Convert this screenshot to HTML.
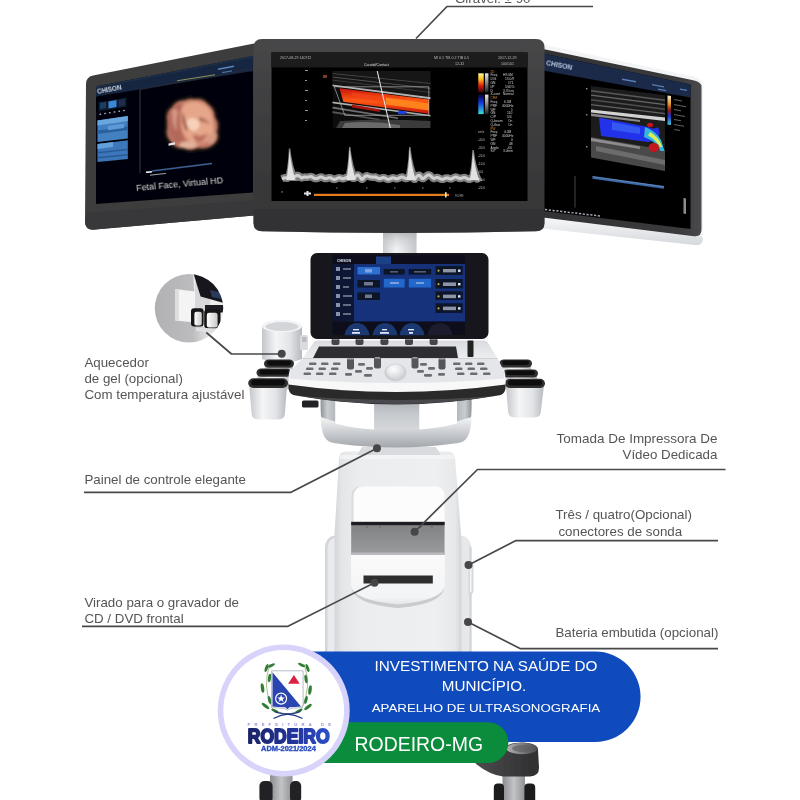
<!DOCTYPE html>
<html><head><meta charset="utf-8">
<style>
html,body{margin:0;padding:0;background:#fff;}
body{width:800px;height:800px;overflow:hidden;position:relative;font-family:"Liberation Sans",sans-serif;}
svg{position:absolute;left:0;top:0;display:block;}
text{font-family:"Liberation Sans",sans-serif;}
</style></head><body>
<svg width="800" height="800" viewBox="0 0 800 800">
<defs>
<filter id="bm" x="0" y="0" width="800" height="800" filterUnits="userSpaceOnUse"><feGaussianBlur stdDeviation="0.55"/></filter>
<filter id="b1" x="-10%" y="-10%" width="120%" height="120%"><feGaussianBlur stdDeviation="0.6"/></filter>
<filter id="b2" x="-20%" y="-20%" width="140%" height="140%"><feGaussianBlur stdDeviation="1.5"/></filter>
<filter id="b3" x="-30%" y="-30%" width="160%" height="160%"><feGaussianBlur stdDeviation="3"/></filter>
<linearGradient id="gBody" x1="0" x2="1" y1="0" y2="0">
  <stop offset="0" stop-color="#d9dbde"/><stop offset="0.12" stop-color="#f1f2f4"/><stop offset="0.5" stop-color="#f7f8f9"/><stop offset="0.88" stop-color="#eceef0"/><stop offset="1" stop-color="#cfd2d6"/>
</linearGradient>
<linearGradient id="gNeck" x1="0" x2="1" y1="0" y2="0">
  <stop offset="0" stop-color="#c9ccd0"/><stop offset="0.4" stop-color="#f2f3f4"/><stop offset="1" stop-color="#c4c7cb"/>
</linearGradient>
</defs>
<rect width="800" height="800" fill="#ffffff"/>
<!--MACHINE-->
<g id="machine" filter="url(#bm)">
<g id="body">
<defs>
<linearGradient id="gShelf" x1="0" x2="0" y1="0" y2="1"><stop offset="0" stop-color="#7f8082"/><stop offset="1" stop-color="#9b9c9e"/></linearGradient>
<linearGradient id="gDrawer" x1="0" x2="0" y1="0" y2="1"><stop offset="0" stop-color="#fafafb"/><stop offset=".8" stop-color="#f3f4f5"/><stop offset="1" stop-color="#dcdee1"/></linearGradient>
</defs>
<!-- casters -->
<defs><linearGradient id="gFork" x1="0" x2="1" y1="0" y2="0"><stop offset="0" stop-color="#8a8c8f"/><stop offset=".5" stop-color="#c2c4c6"/><stop offset="1" stop-color="#8e9093"/></linearGradient>
<linearGradient id="gBase" x1="0" x2="1" y1="0" y2="0"><stop offset="0" stop-color="#4c4c4e"/><stop offset=".6" stop-color="#3a3a3c"/><stop offset="1" stop-color="#2f2f31"/></linearGradient></defs>
<g filter="url(#b1)">
<rect x="502.500" y="772" width="22.500" height="30" fill="url(#gFork)"/>
<rect x="493.800" y="783.500" width="10.200" height="20" rx="4" fill="#1d1d1e"/>
<rect x="524.400" y="783.500" width="10.800" height="20" rx="4" fill="#1d1d1e"/>
<path d="M474,760 Q492,750 506,748 Q506,743 522,742.500 Q538,743 538,750 L539,768 Q539,776 530,776.500 L503,776.500 Q490,775 476,764 Z" fill="url(#gBase)"/>
<defs><linearGradient id="gTopE" x1="0" x2="1" y1="0" y2="0"><stop offset="0" stop-color="#b4b4b6"/><stop offset=".5" stop-color="#7c7c7f"/><stop offset="1" stop-color="#4c4c4f"/></linearGradient></defs><ellipse cx="522" cy="748.500" rx="15.500" ry="5.800" fill="url(#gTopE)"/>
<ellipse cx="523" cy="748.500" rx="11" ry="3.400" fill="#5a5a5d" opacity=".6"/>
<rect x="270" y="772" width="22.500" height="30" fill="url(#gFork)"/>
<rect x="259.400" y="781" width="13.200" height="22" rx="5" fill="#242425"/>
<rect x="290" y="781" width="11.200" height="22" rx="5" fill="#242425"/>
</g>
<!-- lower body wings -->
<path d="M325,548 Q325,537 335,535.500 L340,535.500 L340,700 L325,700 Z" fill="#e9ebed"/>
<path d="M325,548 Q325,537 335,535.500 L336,537 Q327.500,539 327.500,549 L327.500,700 L325,700 Z" fill="#d3d5d9"/>
<path d="M456,535.500 L461,535.500 Q471,537 471.500,548 L471.500,700 L456,700 Z" fill="#e6e8ea"/>
<path d="M469.500,545 L471.500,548 L471.500,700 L469.500,700 Z" fill="#cfd2d6"/>
<!-- column -->
<defs><linearGradient id="gColF" x1="0" x2="1" y1="0" y2="0"><stop offset="0" stop-color="#d4d6da"/><stop offset=".06" stop-color="#e4e6e8"/><stop offset=".2" stop-color="#ecedef"/><stop offset=".8" stop-color="#eeeff1"/><stop offset=".95" stop-color="#e6e8ea"/><stop offset="1" stop-color="#d2d4d8"/></linearGradient></defs>
<path d="M339,458 Q339,452 346,451.500 L448,451.500 Q454.500,452 455,458 L461.500,540 L461.500,700 L334.500,700 L334.500,534 Z" fill="url(#gColF)"/>
<path d="M362,447 L436,447 L441,455 L357,455 Z" fill="#d9dbde"/>
<path d="M340,455 L454,455 L454.500,459 L339.500,459 Z" fill="#f4f5f6" opacity=".8"/>
<!-- opening -->
<path d="M351.200,556 L351.200,496 Q351.200,486.500 361,486.500 L435,486.500 Q444.600,486.500 444.600,496 L444.600,556 Z" fill="#fcfcfd"/>
<path d="M351.200,556 L351.200,496 Q351.200,486.500 361,486.500 L363,486.500 Q353.500,487 353.500,497 L353.500,556 Z" fill="#d9dbde"/>
<path d="M351.200,522 L444.600,522 L444.600,555 L351.200,555 Z" fill="url(#gShelf)"/>
<rect x="351.200" y="521.800" width="93.400" height="3.400" fill="#1f1f21"/>
<rect x="351.200" y="552.500" width="93.400" height="2.500" fill="#b9bbbe"/>
<g fill="#5e5f61"><circle cx="367" cy="527" r=".8"/><circle cx="380" cy="527" r=".8"/><circle cx="421" cy="527" r=".8"/><circle cx="432" cy="527" r=".8"/></g>
<!-- drawer -->
<path d="M351,555 L444.800,555 L444.800,586 Q444,604 398,608 Q352,604 351,586 Z" fill="url(#gDrawer)"/>
<path d="M351,586 Q352,604 398,608 Q444,604 444.800,586 Q443,600 398,604.500 Q353,600 351,586 Z" fill="#c9cbcf" filter="url(#b1)"/>
<rect x="363.500" y="575.500" width="69.300" height="8" fill="#2d2d2f"/>
<!-- right side details -->
<path d="M468.500,561 Q473.500,561 473.500,567 L473.500,590 Q473.500,595 468.500,595 Z" fill="#d6d8db"/><path d="M470,564 L471.500,564 L471.500,592 L470,592 Z" fill="#f6f7f8"/>
</g>
<g id="monitors">
<!-- LEFT MONITOR -->
<path d="M86,84 Q86,77 93,75.500 L254,43.500 L254,215.500 L95,229.600 Q85,230.500 85,221.500 Z" fill="#3d3d3e"/>
<path d="M86,213 L254,200 L254,215.500 L95,229.600 Q85,230.500 85,221.500 Z" fill="#38383a"/>
<path d="M96,86.5 L253,56 L253,192.5 L96,204 Z" fill="#050507"/>
<path d="M96,86.500 L253,56 L253,71 L96,96.500 Z" fill="#182640"/>
<path d="M96,86.500 L253,56 L253,57.500 L96,88 Z" fill="#22344f" opacity=".7"/>
<text x="97.500" y="94" font-size="6.600" font-weight="bold" fill="#cfd8e8" transform="rotate(-10.500 97.500 94)" textLength="25" lengthAdjust="spacingAndGlyphs" filter="url(#b1)">CHISON</text>
<path d="M218,68.500 L234,65.500 L234,67 L218,70 Z" fill="#5b86c4" filter="url(#b1)"/>
<path d="M222,72 L232,70.200 L232,71.400 L222,73.200 Z" fill="#4a6ea4" filter="url(#b1)"/>
<!-- left side panel items -->
<g filter="url(#b1)">
<path d="M98.500,102.500 L126.500,97.500 L126.500,106.500 L98.500,111.500 Z" fill="#0c1a2e"/>
<path d="M108.500,101.500 L116.500,100.100 L116.500,107 L108.500,108.400 Z" fill="#3a88d8"/>
<path d="M100,102.800 L106,101.800 L106,108.200 L100,109.200 Z" fill="#1f3c5e"/>
<path d="M118.500,100 L125,98.800 L125,105.500 L118.500,106.700 Z" fill="#1a2f4c"/>
<path d="M99.500,114.400 L125,110.300" stroke="#aeb9cc" stroke-width="1.400" stroke-dasharray="1.600 3.200" fill="none"/>
<path d="M97.500,120.500 L127.800,116 L127.800,138.500 L97.500,142 Z" fill="#4380c2"/>
<path d="M97.500,120.500 L127.800,116 L127.800,121 L97.500,125.500 Z" fill="#6aa6de"/>
<path d="M97.500,130.500 L127.800,126.500 L127.800,130 L97.500,134 Z" fill="#2c5f9c"/>
<path d="M108,126 L124,123.800 L124,128 L108,130.200 Z" fill="#5f9ad8"/>
<path d="M97.500,144 L127.800,140.300 L127.800,159 L97.500,162 Z" fill="#3b77ba"/>
<path d="M97.500,144 L113,142 L113,147 L97.500,149 Z" fill="#63a0dc"/>
<path d="M97.500,152 L127.800,148.700 L127.800,150.300 L97.500,153.600 Z" fill="#2a5a94"/>
<path d="M97.500,157 L127.800,154 L127.800,155.400 L97.500,158.400 Z" fill="#2a5a94"/>
</g>
<!-- 3D view frame -->
<path d="M140,89 L140,173" stroke="#3c4656" stroke-width=".8"/>
<path d="M140,89.500 L251,69" stroke="#26303e" stroke-width=".8"/>
<path d="M177,80.800 L215,74.800" stroke="#8f8f58" stroke-width="1" filter="url(#b1)"/>
<path d="M152,171 L212,163.500" stroke="#3a6299" stroke-width="1.300" filter="url(#b1)"/>
<path d="M146,172.400 L152,171.700" stroke="#e7ebf2" stroke-width="1.600" filter="url(#b1)"/>
<path d="M150,175.200 L166,173.400" stroke="#9aa3b3" stroke-width="1" filter="url(#b1)"/>
<!-- fetal face -->
<g filter="url(#b2)">
<path d="M167,122 Q165,112 172,107 Q176,100 185,100 Q189,97.500 195,99 Q203,98 208,104 Q215,109 215,117 Q220,124 217,132 Q220,140 213,145 Q206,150 198,148 Q190,152 183,148 Q175,149 171,142 Q165,136 167,128 Z" fill="#c47c66"/>
<path d="M184,104 Q194,99 204,104 Q213,110 213,122 Q216,134 208,141 Q198,147 189,141 Q181,134 181,121 Q180,110 184,104 Z" fill="#e6a68a"/>
<path d="M169,112 Q174,104 183,103 Q179,112 180,124 Q181,136 187,143 Q178,146 172,139 Q166,130 169,112 Z" fill="#b4685a"/>
<path d="M172,110 Q176,107 178,112 Q175,122 177,132 Q172,126 172,110 Z" fill="#dfa691" opacity=".8"/>
<path d="M188,119 Q194,116 199,121 Q201,128 195,131 Q188,130 187,124 Z" fill="#f6d2ba"/>
<path d="M183,112 Q185,122 188,130 Q186,132 184,126 Q181,118 183,112 Z" fill="#8c4434"/>
<path d="M199,117 Q206,118 210,124 Q204,122 199,121 Z" fill="#b06a56"/>
<path d="M180,143 Q190,139 198,146 Q190,151 180,147 Z" fill="#e3b49e"/>
<path d="M207,134 Q214,136 217,131 Q218,141 210,145 Q206,141 207,134 Z" fill="#d79a84"/>
<path d="M193,134 Q202,138 207,133 Q206,142 198,143 Q193,140 193,134 Z" fill="#bd6f5e"/>
</g>
<g filter="url(#b1)"><path d="M168.500,143.500 L175,142.300 L175,144.500 L168.500,145.700 Z" fill="#e8e8ea"/></g>
<text x="136.500" y="190.800" font-size="8.900" fill="#d3d8e0" transform="rotate(-5.200 136.500 190.800)" filter="url(#b1)">Fetal Face,  Virtual HD</text>

<!-- RIGHT MONITOR -->
<defs>
<linearGradient id="gRcb" x1="0" x2="0" y1="0" y2="1"><stop offset="0" stop-color="#f4f0d0"/><stop offset=".3" stop-color="#e0902a"/><stop offset=".5" stop-color="#8a1a1a"/><stop offset=".7" stop-color="#2030c0"/><stop offset="1" stop-color="#40d0d8"/></linearGradient>
<linearGradient id="gRbz" x1="0" x2="1" y1="0" y2="0"><stop offset="0" stop-color="#323234"/><stop offset=".85" stop-color="#3a3a3c"/><stop offset="1" stop-color="#4a4a4c"/></linearGradient>
<linearGradient id="gRfr" x1="0" x2="0" y1="0" y2="1"><stop offset="0" stop-color="#f6f7f8"/><stop offset="1" stop-color="#d5d8dc"/></linearGradient>
</defs>
<path d="M543,44.500 L694,76.500 Q703,78.500 703,87 L703,238 Q703,246 695,245 L543,228.500 Z" fill="#f3f4f6"/>
<path d="M543,217.500 L700.500,236.500 L703,238 Q703,246 695,245 L543,228.500 Z" fill="url(#gRfr)"/>
<path d="M543,49 L692,80 Q701.500,81.500 701.500,87 L701.500,229.500 Q701.500,237 694,236.200 L543,217.500 Z" fill="url(#gRbz)"/>
<path d="M543,53.500 L690.500,84.500 L690.500,229 L543,211 Z" fill="#040405"/>
<path d="M543,53.500 L690.500,84.500 L690.500,97.500 L543,70.500 Z" fill="#1b2b48"/>
<text x="545.800" y="65.300" font-size="8" font-weight="bold" fill="#b8c6e4" transform="rotate(11 545.800 65.300)" textLength="26.500" lengthAdjust="spacingAndGlyphs" filter="url(#b1)">CHISON</text>
<g filter="url(#b1)" fill="#5a7fb8">
<path d="M622,78.500 L636,81 L636,82.400 L622,79.900 Z"/><path d="M652,84 L664,86.200 L664,87.500 L652,85.300 Z"/><path d="M658,88.500 L666,90 L666,91.200 L658,89.700 Z"/><path d="M680,88.500 L687,89.800 L687,91 L680,89.700 Z"/>
</g>
<!-- ultrasound image -->
<clipPath id="cpRus"><path d="M591,86 L665,95 L665,171 L591,157.500 Z"/></clipPath>
<g clip-path="url(#cpRus)" filter="url(#b1)">
<path d="M591,86 L665,95 L665,171 L591,157.500 Z" fill="#1c1c1c"/>
<path d="M591,90 L665,99.500 L665,101 L591,91.500 Z" fill="#5a5a5a"/>
<path d="M591,94.500 L665,104 L665,105.200 L591,95.700 Z" fill="#6a6a6a"/>
<path d="M591,99 L665,108.500 L665,110 L591,100.500 Z" fill="#505050"/>
<path d="M591,104 L665,113 L665,114.300 L591,105.300 Z" fill="#646464"/>
<path d="M591,109.500 L665,117.500 L665,121 L591,112.500 Z" fill="#d2d2d2"/>
<path d="M591,113.500 L640,120 L640,122 L591,116 Z" fill="#8a8a8a"/>
<path d="M599,117.500 L648,127 Q654,130 658,127 L660,134 Q655,141 648,142 L626,139 L601,136 Z" fill="#2233ea"/>
<path d="M612,122 L640,127.500 L640,134 L612,130 Z" fill="#3a62f2" opacity=".8"/>
<path d="M591,137 L665,150 L665,172 L591,158 Z" fill="#4a4a4a"/>
<path d="M591,138 L640,146.500 L640,149 L591,141 Z" fill="#8d8d8d"/>
<path d="M596,146 L665,160 L665,165 L596,151 Z" fill="#6c6c6c"/>
<path d="M645,127 Q656,131 661,140 Q663,146 664.500,151 L660.500,151 Q657,142 644,137 Z" fill="#30b8dc"/>
<path d="M650,132 Q658,136 662.500,147 L660,147 Q655,139 648,135.500 Z" fill="#dcec5c"/>
<ellipse cx="653.800" cy="147.500" rx="5.200" ry="4.600" fill="#c4141a"/>
<ellipse cx="650" cy="125" rx="3" ry="2.200" fill="#c4141a"/>
</g>
<g filter="url(#b1)">
<path d="M667.500,95.500 L671,96 L671,125 L667.500,124.500 Z" fill="url(#gRcb)"/>
<g fill="#a9adb4" opacity=".55">
<path d="M674,99 L682,100.500 L682,101.500 L674,100 Z"/><path d="M674,104 L686,106.200 L686,107.200 L674,105 Z"/><path d="M674,109 L681,110.300 L681,111.300 L674,110 Z"/><path d="M674,114 L685,116 L685,117 L674,115 Z"/><path d="M674,119 L681,120.300 L681,121.300 L674,120 Z"/><path d="M674,124 L684,125.800 L684,126.800 L674,125 Z"/><path d="M674,129 L680,130.100 L680,131.100 L674,130 Z"/>
</g>
<path d="M586,88 L587.500,88.200 L587.500,89.400 L586,89.200 Z M586,114 L587.500,114.200 L587.500,115.400 L586,115.200 Z M586,146 L587.500,146.200 L587.500,147.400 L586,147.200 Z" fill="#999"/>
</g>
<path d="M592.500,177.500 L664,187.500" stroke="#3c6aa8" stroke-width="2.600" filter="url(#b1)"/>
<path d="M592.500,176.500 L664,186.500" stroke="#7aa0d0" stroke-width=".6" filter="url(#b1)"/>
<path d="M575,176 L575,207.500" stroke="#5a5a5a" stroke-width=".7"/>
<path d="M545,209.500 L600,216" stroke="#a4a9b2" stroke-width="1.500" stroke-dasharray="2.200 1.600" filter="url(#b1)"/>
<path d="M683.500,198 L686,198.400 L686,214 L683.500,213.600 Z" fill="#8a8d92" filter="url(#b1)"/>

<!-- NECK -->
<defs><linearGradient id="gNeckV" x1="0" x2="0" y1="0" y2="1"><stop offset="0" stop-color="#9a9b9e" stop-opacity=".9"/><stop offset=".5" stop-color="#b9babd" stop-opacity=".45"/><stop offset="1" stop-color="#d0d1d4" stop-opacity="0"/></linearGradient></defs>
<path d="M383,228 L416.500,228 L416.500,255 L383,255 Z" fill="url(#gNeck)"/>
<path d="M383,228 L416.500,228 L416.500,250 L383,250 Z" fill="url(#gNeckV)"/>
<!-- CENTER MONITOR -->
<defs><linearGradient id="gBez" x1="0" x2="0" y1="0" y2="1"><stop offset="0" stop-color="#474748"/><stop offset=".5" stop-color="#3c3c3d"/><stop offset="1" stop-color="#353536"/></linearGradient></defs>
<path d="M253.500,47.500 Q253.500,39 262,39 L536,39 Q544.500,39 544.500,47.500 L544.500,223 Q544.500,231 536,231.300 Q399,234.500 262,231.300 Q253.500,231 253.500,223 Z" fill="url(#gBez)"/>
<path d="M253.500,209 L544.500,209 L544.500,223 Q544.500,231 536,231.300 Q399,234.500 262,231.300 Q253.500,231 253.500,223 Z" fill="#323233" opacity=".55"/>
<rect x="271.500" y="52.500" width="256" height="148.500" fill="#020202"/>
<rect x="271.500" y="52.500" width="256" height="15" fill="#1d1d1e"/>
</g>
<g id="cscreen">
<defs>
<linearGradient id="gCb1" x1="0" x2="0" y1="0" y2="1"><stop offset="0" stop-color="#fff6a0"/><stop offset=".3" stop-color="#ffc21a"/><stop offset=".65" stop-color="#e01b12"/><stop offset="1" stop-color="#3a0505"/></linearGradient>
<linearGradient id="gCb2" x1="0" x2="0" y1="0" y2="1"><stop offset="0" stop-color="#050530"/><stop offset=".4" stop-color="#1532e0"/><stop offset="1" stop-color="#38e0d8"/></linearGradient>
<linearGradient id="gCb3" x1="0" x2="0" y1="0" y2="1"><stop offset="0" stop-color="#e8e8e8"/><stop offset="1" stop-color="#222"/></linearGradient>
<linearGradient id="gVes" x1="0" x2="0" y1="0" y2="1"><stop offset="0" stop-color="#c91410"/><stop offset=".5" stop-color="#ff5a12"/><stop offset="1" stop-color="#c91410"/></linearGradient>
<clipPath id="cpUS"><rect x="332.5" y="71" width="98" height="57"/></clipPath>
</defs>
<g font-size="3.6" fill="#b9b9b9" filter="url(#b1)">
<text x="280" y="59.3">2017-08-29 140712</text>
<text x="364" y="65.6" fill="#d8d8d8">Carotid/Contact</text>
<text x="434" y="59.3">MI  0.1  TIS  0.2  TIB  0.5</text>
<text x="455" y="65">12-32</text>
<text x="498" y="59.3">2017-12-29</text>
<text x="501" y="65">100/101</text>
</g>
<g clip-path="url(#cpUS)" filter="url(#b1)">
<rect x="332.500" y="71" width="98" height="57" fill="#0a0a0a"/>
<path d="M332,71 L431,71 L431,98 L332,84 Z" fill="#131313"/>
<path d="M332,73 L431,83 L431,84 L332,74 Z" fill="#454545"/>
<path d="M332,76.500 L431,88 L431,89 L332,77.500 Z" fill="#505050"/>
<path d="M332,79.500 L431,92 L431,93 L332,80.500 Z" fill="#3c3c3c"/>
<path d="M332,84.500 L431,97.300 L431,99.300 L332,86.300 Z" fill="#b4b4b4"/>
<path d="M339.500,88.200 L429,99.500 L429,113.800 L343.300,101.800 Z" fill="url(#gVes)"/>
<path d="M385,97.500 L429,103.500 L429,110.500 L386,104.500 Z" fill="#ff8a1e" opacity=".9"/><path d="M352,92.500 L386,97.500 L386,102.500 L353,97.500 Z" fill="#f2421a" opacity=".8"/>
<path d="M332,101.500 L431,115 L431,116.600 L332,103.300 Z" fill="#b0b0b0"/>
<path d="M332,106.500 L398,117.500 L398,119 L332,108.500 Z" fill="#6e6e6e"/>
<path d="M332,111 L380,119 L380,120.500 L332,113 Z" fill="#555"/>
<path d="M352,104.500 L380,109.500 L380,112 L352,107.500 Z" fill="#a5130f"/>
<ellipse cx="402" cy="112.500" rx="4.500" ry="1.800" fill="#1e3fe0"/>
<path d="M340,121 Q380,118 431,121 L431,128 L336,128 Z" fill="#3a3a3a"/>
<path d="M345,123 Q372,120 400,125 L400,128 L342,128 Z" fill="#6a6a6a"/>
<path d="M377,70 L390.500,129" stroke="#e9e9e9" stroke-width="1.100"/>
<path d="M334.300,86.800 L428.800,86.800 L428.800,115.300 L344.800,115.300 Z" fill="none" stroke="#b5b5b5" stroke-width=".7"/>
</g>
<!-- left scale dots -->
<g fill="#9a9a9a" filter="url(#b1)">
<rect x="305" y="70" width="3" height="1"/><rect x="305" y="80" width="2" height="1"/><rect x="305" y="90" width="3" height="1"/><rect x="305" y="100" width="2" height="1"/><rect x="305" y="110" width="3" height="1"/><rect x="305" y="120" width="2" height="1"/>
<rect x="323" y="75" width="4" height="3" fill="#7a3a2a"/>
</g>
<!-- waveform -->
<g filter="url(#b1)">
<path d="M282.0,179.0 L282.8,178.6 L283.5,178.2 L284.2,177.9 L285.0,177.7 L285.8,177.7 L286.5,177.9 L287.2,178.2 L288.0,178.0 L288.8,177.6 L289.5,176.9 L290.2,176.2 L291.0,176.0 L291.8,176.3 L292.5,176.5 L293.2,176.9 L294.0,177.0 L294.8,176.8 L295.5,176.1 L296.2,175.7 L297.0,175.5 L297.8,175.5 L298.5,175.8 L299.2,176.1 L300.0,176.6 L300.8,177.2 L301.5,177.9 L302.2,177.8 L303.0,177.5 L303.8,177.2 L304.5,177.1 L305.2,177.1 L306.0,177.2 L306.8,177.3 L307.5,177.2 L308.2,177.1 L309.0,176.9 L309.8,176.7 L310.5,176.5 L311.2,176.6 L312.0,176.8 L312.8,177.3 L313.5,178.0 L314.2,178.2 L315.0,178.5 L315.8,178.6 L316.5,178.6 L317.2,178.5 L318.0,178.1 L318.8,177.7 L319.5,177.3 L320.2,177.1 L321.0,177.0 L321.8,177.1 L322.5,177.4 L323.2,177.8 L324.0,178.2 L324.8,178.5 L325.5,178.6 L326.2,178.6 L327.0,178.4 L327.8,178.1 L328.5,177.9 L329.2,177.7 L330.0,177.7 L330.8,177.9 L331.5,178.3 L332.2,178.7 L333.0,179.1 L333.8,179.3 L334.5,179.4 L335.2,179.3 L336.0,179.0 L336.8,178.6 L337.5,178.2 L338.2,177.9 L339.0,177.8 L339.8,177.8 L340.5,178.0 L341.2,178.3 L342.0,178.6 L342.8,178.7 L343.5,178.7 L344.2,178.5 L345.0,178.1 L345.8,177.7 L346.5,177.3 L347.2,177.1 L348.0,176.7 L348.8,176.2 L349.5,175.9 L350.2,175.6 L351.0,176.1 L351.8,177.0 L352.5,177.7 L353.2,178.3 L354.0,178.3 L354.8,177.9 L355.5,176.6 L356.2,175.7 L357.0,175.1 L357.8,175.0 L358.5,175.3 L359.2,176.1 L360.0,177.1 L360.8,178.2 L361.5,179.3 L362.2,179.2 L363.0,178.7 L363.8,177.8 L364.5,177.0 L365.2,176.4 L366.0,176.0 L366.8,175.8 L367.5,175.9 L368.2,176.2 L369.0,176.5 L369.8,176.8 L370.5,177.0 L371.2,177.1 L372.0,177.1 L372.8,177.2 L373.5,177.2 L374.2,177.1 L375.0,177.0 L375.8,177.2 L376.5,177.5 L377.2,177.9 L378.0,178.2 L378.8,178.5 L379.5,178.6 L380.2,178.5 L381.0,178.3 L381.8,178.0 L382.5,177.7 L383.2,177.6 L384.0,177.7 L384.8,177.9 L385.5,178.3 L386.2,178.7 L387.0,179.1 L387.8,179.3 L388.5,179.4 L389.2,179.2 L390.0,178.9 L390.8,178.5 L391.5,178.2 L392.2,177.9 L393.0,177.8 L393.8,177.9 L394.5,178.2 L395.2,178.4 L396.0,178.7 L396.8,178.8 L397.5,178.7 L398.2,178.5 L399.0,178.1 L399.8,177.7 L400.5,177.3 L401.2,177.1 L402.0,177.0 L402.8,177.2 L403.5,177.5 L404.2,177.9 L405.0,178.2 L405.8,178.5 L406.5,178.5 L407.2,178.4 L408.0,177.9 L408.8,177.0 L409.5,176.2 L410.2,175.5 L411.0,175.4 L411.8,176.3 L412.5,177.3 L413.2,178.4 L414.0,179.1 L414.8,179.3 L415.5,178.3 L416.2,177.3 L417.0,176.3 L417.8,175.6 L418.5,175.2 L419.2,175.3 L420.0,175.8 L420.8,176.8 L421.5,178.0 L422.2,178.5 L423.0,178.6 L423.8,178.2 L424.5,177.7 L425.2,177.0 L426.0,176.3 L426.8,175.7 L427.5,175.1 L428.2,174.9 L429.0,174.9 L429.8,175.2 L430.5,175.8 L431.2,176.5 L432.0,177.2 L432.8,177.9 L433.5,178.4 L434.2,178.4 L435.0,178.1 L435.8,177.8 L436.5,177.6 L437.2,177.5 L438.0,177.6 L438.8,177.9 L439.5,178.3 L440.2,178.7 L441.0,179.1 L441.8,179.3 L442.5,179.3 L443.2,179.2 L444.0,178.9 L444.8,178.5 L445.5,178.1 L446.2,177.9 L447.0,177.9 L447.8,178.0 L448.5,178.3 L449.2,178.6 L450.0,178.8 L450.8,178.9 L451.5,178.8 L452.2,178.5 L453.0,178.1 L453.8,177.7 L454.5,177.3 L455.2,177.1 L456.0,177.1 L456.8,177.2 L457.5,177.6 L458.2,177.9 L459.0,178.3 L459.8,178.4 L460.5,178.5 L461.2,178.3 L462.0,178.1 L462.8,177.8 L463.5,177.6 L464.2,177.5 L465.0,177.6 L465.8,177.9 L466.5,178.3 L467.2,178.7 L468.0,179.1 L468.8,179.3 L469.5,179.3 L470.2,179.1 L471.0,178.8 L471.8,177.8 L472.5,176.9 L473.2,176.1 L474.0,175.4 L474.8,176.2 L475.5,177.1 L476.2,178.0 L477.0,178.9 L477.8,178.9 L478.5,178.1" fill="none" stroke="#828282" stroke-width="7.500" stroke-linejoin="round"/>
<path d="M284.0,181 Q287.9,170.5 288.9,148.5 L290.3,148.5 Q292.1,166.5 299.0,181 Z" fill="#808080"/><path d="M344.1,181 Q348.0,169.8 349.0,147.0 L350.4,147.0 Q352.2,165.8 359.1,181 Z" fill="#808080"/><path d="M404.2,181 Q408.1,169.8 409.1,147.0 L410.5,147.0 Q412.3,165.8 419.2,181 Z" fill="#808080"/><path d="M467.5,181 Q471.4,171.2 472.4,150.0 L473.8,150.0 Q475.6,167.2 482.5,181 Z" fill="#808080"/>
<path d="M282.0,179.0 L282.8,178.6 L283.5,178.2 L284.2,177.9 L285.0,177.7 L285.8,177.7 L286.5,177.9 L287.2,178.2 L288.0,178.0 L288.8,177.6 L289.5,176.9 L290.2,176.2 L291.0,176.0 L291.8,176.3 L292.5,176.5 L293.2,176.9 L294.0,177.0 L294.8,176.8 L295.5,176.1 L296.2,175.7 L297.0,175.5 L297.8,175.5 L298.5,175.8 L299.2,176.1 L300.0,176.6 L300.8,177.2 L301.5,177.9 L302.2,177.8 L303.0,177.5 L303.8,177.2 L304.5,177.1 L305.2,177.1 L306.0,177.2 L306.8,177.3 L307.5,177.2 L308.2,177.1 L309.0,176.9 L309.8,176.7 L310.5,176.5 L311.2,176.6 L312.0,176.8 L312.8,177.3 L313.5,178.0 L314.2,178.2 L315.0,178.5 L315.8,178.6 L316.5,178.6 L317.2,178.5 L318.0,178.1 L318.8,177.7 L319.5,177.3 L320.2,177.1 L321.0,177.0 L321.8,177.1 L322.5,177.4 L323.2,177.8 L324.0,178.2 L324.8,178.5 L325.5,178.6 L326.2,178.6 L327.0,178.4 L327.8,178.1 L328.5,177.9 L329.2,177.7 L330.0,177.7 L330.8,177.9 L331.5,178.3 L332.2,178.7 L333.0,179.1 L333.8,179.3 L334.5,179.4 L335.2,179.3 L336.0,179.0 L336.8,178.6 L337.5,178.2 L338.2,177.9 L339.0,177.8 L339.8,177.8 L340.5,178.0 L341.2,178.3 L342.0,178.6 L342.8,178.7 L343.5,178.7 L344.2,178.5 L345.0,178.1 L345.8,177.7 L346.5,177.3 L347.2,177.1 L348.0,176.7 L348.8,176.2 L349.5,175.9 L350.2,175.6 L351.0,176.1 L351.8,177.0 L352.5,177.7 L353.2,178.3 L354.0,178.3 L354.8,177.9 L355.5,176.6 L356.2,175.7 L357.0,175.1 L357.8,175.0 L358.5,175.3 L359.2,176.1 L360.0,177.1 L360.8,178.2 L361.5,179.3 L362.2,179.2 L363.0,178.7 L363.8,177.8 L364.5,177.0 L365.2,176.4 L366.0,176.0 L366.8,175.8 L367.5,175.9 L368.2,176.2 L369.0,176.5 L369.8,176.8 L370.5,177.0 L371.2,177.1 L372.0,177.1 L372.8,177.2 L373.5,177.2 L374.2,177.1 L375.0,177.0 L375.8,177.2 L376.5,177.5 L377.2,177.9 L378.0,178.2 L378.8,178.5 L379.5,178.6 L380.2,178.5 L381.0,178.3 L381.8,178.0 L382.5,177.7 L383.2,177.6 L384.0,177.7 L384.8,177.9 L385.5,178.3 L386.2,178.7 L387.0,179.1 L387.8,179.3 L388.5,179.4 L389.2,179.2 L390.0,178.9 L390.8,178.5 L391.5,178.2 L392.2,177.9 L393.0,177.8 L393.8,177.9 L394.5,178.2 L395.2,178.4 L396.0,178.7 L396.8,178.8 L397.5,178.7 L398.2,178.5 L399.0,178.1 L399.8,177.7 L400.5,177.3 L401.2,177.1 L402.0,177.0 L402.8,177.2 L403.5,177.5 L404.2,177.9 L405.0,178.2 L405.8,178.5 L406.5,178.5 L407.2,178.4 L408.0,177.9 L408.8,177.0 L409.5,176.2 L410.2,175.5 L411.0,175.4 L411.8,176.3 L412.5,177.3 L413.2,178.4 L414.0,179.1 L414.8,179.3 L415.5,178.3 L416.2,177.3 L417.0,176.3 L417.8,175.6 L418.5,175.2 L419.2,175.3 L420.0,175.8 L420.8,176.8 L421.5,178.0 L422.2,178.5 L423.0,178.6 L423.8,178.2 L424.5,177.7 L425.2,177.0 L426.0,176.3 L426.8,175.7 L427.5,175.1 L428.2,174.9 L429.0,174.9 L429.8,175.2 L430.5,175.8 L431.2,176.5 L432.0,177.2 L432.8,177.9 L433.5,178.4 L434.2,178.4 L435.0,178.1 L435.8,177.8 L436.5,177.6 L437.2,177.5 L438.0,177.6 L438.8,177.9 L439.5,178.3 L440.2,178.7 L441.0,179.1 L441.8,179.3 L442.5,179.3 L443.2,179.2 L444.0,178.9 L444.8,178.5 L445.5,178.1 L446.2,177.9 L447.0,177.9 L447.8,178.0 L448.5,178.3 L449.2,178.6 L450.0,178.8 L450.8,178.9 L451.5,178.8 L452.2,178.5 L453.0,178.1 L453.8,177.7 L454.5,177.3 L455.2,177.1 L456.0,177.1 L456.8,177.2 L457.5,177.6 L458.2,177.9 L459.0,178.3 L459.8,178.4 L460.5,178.5 L461.2,178.3 L462.0,178.1 L462.8,177.8 L463.5,177.6 L464.2,177.5 L465.0,177.6 L465.8,177.9 L466.5,178.3 L467.2,178.7 L468.0,179.1 L468.8,179.3 L469.5,179.3 L470.2,179.1 L471.0,178.8 L471.8,177.8 L472.5,176.9 L473.2,176.1 L474.0,175.4 L474.8,176.2 L475.5,177.1 L476.2,178.0 L477.0,178.9 L477.8,178.9 L478.5,178.1" fill="none" stroke="#d0d0d0" stroke-width="3" stroke-linejoin="round"/>
<path d="M286.3,180 Q288.5,169.0 289.5,150.0 Q291.1,166.0 295.5,180 Z" fill="#e2e2e2"/><path d="M346.4,180 Q348.6,168.2 349.6,148.5 Q351.2,165.2 355.6,180 Z" fill="#e2e2e2"/><path d="M406.5,180 Q408.7,168.2 409.7,148.5 Q411.3,165.2 415.7,180 Z" fill="#e2e2e2"/><path d="M469.8,180 Q472.0,169.8 473.0,151.5 Q474.6,166.8 479.0,180 Z" fill="#e2e2e2"/>
</g>
<g fill="#8d8d8d" filter="url(#b1)">
<rect x="281" y="191.5" width="2" height=".9"/><rect x="336" y="187.5" width="1.5" height=".9"/><rect x="366" y="187.5" width="1.5" height=".9"/><rect x="394" y="187.5" width="1.5" height=".9"/><rect x="422" y="187.5" width="1.5" height=".9"/><rect x="449" y="187.5" width="1.5" height=".9"/>
</g>
<!-- progress -->
<rect x="314" y="193.8" width="135" height="2.2" fill="#e77b1e" filter="url(#b1)"/>
<rect x="445" y="192.2" width="1.6" height="5.2" fill="#ffe9c8"/>
<path d="M304,192.5 l2.5,0 l0,-1.6 l2,0 l0,1.6 l2.5,0 l0,2 l-2.5,0 l0,1.6 l-2,0 l0,-1.6 l-2.5,0 Z" fill="#e4e4e4" filter="url(#b1)"/>
<text x="455" y="196.5" font-size="3.4" fill="#b0b0b0" filter="url(#b1)">91/99</text>
<!-- colour bars -->
<g filter="url(#b1)">
<rect x="478.3" y="73.3" width="5.4" height="19" fill="url(#gCb1)"/>
<rect x="478.3" y="94.6" width="5.4" height="19.5" fill="url(#gCb2)"/>
<rect x="485" y="73.3" width="3.4" height="19" fill="url(#gCb3)"/>
<rect x="485" y="94.6" width="3.4" height="19.5" fill="url(#gCb3)"/>
</g>
<g font-size="3.3" fill="#cfcfcf" filter="url(#b1)">
<text x="490.5" y="72.6" fill="#d98a2a" font-size="3">2D</text>
<text x="490.5" y="76.4">Freq</text><text x="503" y="76.4">H9.0M</text>
<text x="490.5" y="80.2">D/G</text><text x="505" y="80.2">13.0/9</text>
<text x="490.5" y="84">GN</text><text x="508" y="84">171</text>
<text x="490.5" y="87.8">I/P</text><text x="505" y="87.8">5/40%</text>
<text x="490.5" y="91.6">D</text><text x="503" y="91.6">3.70cm</text>
<text x="490.5" y="95.4">X-cont</text><text x="503" y="95.4">Normal</text>
<text x="490.5" y="99.2" fill="#d98a2a" font-size="3">CFM</text>
<text x="490.5" y="103">Freq</text><text x="504" y="103">6.5M</text>
<text x="490.5" y="106.8">PRF</text><text x="502" y="106.8">4000Hz</text>
<text x="490.5" y="110.6">WF</text><text x="511" y="110.6">1</text>
<text x="490.5" y="114.4">GN</text><text x="507" y="114.4">110</text>
<text x="490.5" y="118.2">C/P</text><text x="507" y="118.2">5/4</text>
<text x="490.5" y="122">Q-beam</text><text x="508" y="122">On</text>
<text x="490.5" y="125.8">Q-flow</text><text x="508" y="125.8">On</text>
<text x="490.5" y="129.6" fill="#d98a2a" font-size="3">PW</text>
<text x="490.5" y="133.4">Freq</text><text x="504" y="133.4">4.0M</text>
<text x="490.5" y="137.2">PRF</text><text x="502" y="137.2">4000Hz</text>
<text x="490.5" y="141">WF</text><text x="511" y="141">0</text>
<text x="490.5" y="144.8">GN</text><text x="509" y="144.8">48</text>
<text x="490.5" y="148.6">Angle</text><text x="507" y="148.6">-60</text>
<text x="490.5" y="152.4">SV</text><text x="503" y="152.4">3.0mm</text>
</g>
<g font-size="3" fill="#bdbdbd" filter="url(#b1)">
<text x="478" y="133">cm/s</text><text x="478" y="141">-40.0</text><text x="478" y="149">-30.0</text><text x="478" y="157">-20.0</text><text x="478" y="165">-10.0</text><text x="478" y="173">-0.0</text><text x="478" y="181">-10.0</text><text x="478" y="189">-20.0</text>
</g>
</g>
<g id="console">
<defs>
<linearGradient id="gCup" x1="0" x2="1" y1="0" y2="0"><stop offset="0" stop-color="#c3c6ca"/><stop offset=".35" stop-color="#f4f5f6"/><stop offset=".7" stop-color="#e2e4e7"/><stop offset="1" stop-color="#b5b8bd"/></linearGradient>
<linearGradient id="gPanel" x1="0" x2="0" y1="0" y2="1"><stop offset="0" stop-color="#d9dbdf"/><stop offset="1" stop-color="#eceef0"/></linearGradient>
<linearGradient id="gHandle" x1="0" x2="0" y1="0" y2="1"><stop offset="0" stop-color="#f2f3f5"/><stop offset=".5" stop-color="#d4d7db"/><stop offset="1" stop-color="#b9bdc2"/></linearGradient>
<radialGradient id="gBall" cx=".4" cy=".35" r=".7"><stop offset="0" stop-color="#ffffff"/><stop offset="1" stop-color="#cfd2d6"/></radialGradient>
</defs>

<!-- handle / support under panel -->
<defs>
<linearGradient id="gArmL" x1="0" x2="1" y1="0" y2="0"><stop offset="0" stop-color="#8f9398"/><stop offset=".45" stop-color="#c9ccd0"/><stop offset="1" stop-color="#b4b7bc"/></linearGradient>
<linearGradient id="gArmR" x1="0" x2="1" y1="0" y2="0"><stop offset="0" stop-color="#b4b7bc"/><stop offset=".55" stop-color="#c9ccd0"/><stop offset="1" stop-color="#8f9398"/></linearGradient>
<linearGradient id="gBar" x1="0" x2="0" y1="0" y2="1"><stop offset="0" stop-color="#f4f5f6"/><stop offset=".3" stop-color="#dcdee1"/><stop offset=".65" stop-color="#bfc2c6"/><stop offset="1" stop-color="#a3a7ac"/></linearGradient>
<linearGradient id="gCol2" x1="0" x2="0" y1="0" y2="1"><stop offset="0" stop-color="#a9acb1"/><stop offset=".45" stop-color="#c6c9cd"/><stop offset="1" stop-color="#d9dbde"/></linearGradient>
</defs>
<path d="M320.700,396 L335.500,396 L335.500,428 L322.500,428 Q320,414 320.700,396 Z" fill="url(#gArmL)"/>
<path d="M457,396 L471.500,396 Q472.200,414 469.700,428 L457,428 Z" fill="url(#gArmR)"/>
<rect x="374" y="398" width="45.500" height="36" fill="url(#gCol2)"/>
<path d="M320.700,417 Q396,443 471.500,417 Q471.500,428 468,436 Q465,442 458,443 Q396,452 334,443 Q327,442 324,436 Q320.700,428 320.700,417 Z" fill="url(#gBar)"/>
<path d="M335.400,400 L374.100,400 L374.100,429.500 Q352,428 335.400,423.500 Z" fill="#ffffff"/>
<path d="M419.500,400 L457,400 L457,423.500 Q440,428 419.500,429.500 Z" fill="#ffffff"/>
<rect x="302" y="400.500" width="16.500" height="7" fill="#232325" rx="1.500"/>
<!-- gel warmer -->
<path d="M262,326 L262,359 Q282,367 302,359 L302,326 Z" fill="url(#gCup)"/>
<ellipse cx="282" cy="326" rx="20" ry="6.300" fill="#f3f4f5"/>
<ellipse cx="282" cy="326.600" rx="16.500" ry="4.500" fill="#d3d5d9"/>
<rect x="300" y="335" width="8" height="15" fill="#d9dbde" rx="1.500"/>
<rect x="302" y="337" width="4.500" height="5" fill="#b9bcc1" rx="1"/>

<!-- left probe holders -->
<path d="M264.8,363.65 L293.2,363.65 L293,373 Q293,380 286,380 L272,380 Q265,380 265,373 Z" fill="url(#gCup)"/>
<rect x="264" y="359.5" width="30" height="8.300000000000011" rx="4.57" ry="4.15" fill="#2d2d2f"/>
<rect x="267" y="360.7" width="24" height="4.700000000000012" rx="2.59" ry="2.35" fill="#0d0d0e"/>
<path d="M257.3,372.65 L291.0,372.65 L291,383 Q291,390 284,390 L264.5,390 Q257.5,390 257.5,383 Z" fill="url(#gCup)"/>
<rect x="256.5" y="368.5" width="35.30000000000001" height="8.300000000000011" rx="4.57" ry="4.15" fill="#2d2d2f"/>
<rect x="259.5" y="369.7" width="29.30000000000001" height="4.700000000000012" rx="2.59" ry="2.35" fill="#0d0d0e"/>
<path d="M249.0,383.1 L287.2,383.1 L285,412.5 Q285,419.5 278,419.5 L258.5,419.5 Q251.5,419.5 251.5,412.5 Z" fill="url(#gCup)"/>
<rect x="248.2" y="378.2" width="39.80000000000001" height="9.800000000000011" rx="5.39" ry="4.90" fill="#2d2d2f"/>
<rect x="251.2" y="379.4" width="33.80000000000001" height="6.200000000000012" rx="3.41" ry="3.10" fill="#0d0d0e"/>

<!-- right probe holders -->
<path d="M500.2,363.45 L531.2,363.45 L531,373 Q531,380 524,380 L507.5,380 Q500.5,380 500.5,373 Z" fill="url(#gCup)"/>
<rect x="499.4" y="359.4" width="32.60000000000002" height="8.100000000000023" rx="4.46" ry="4.05" fill="#2d2d2f"/>
<rect x="502.4" y="360.59999999999997" width="26.600000000000023" height="4.500000000000023" rx="2.48" ry="2.25" fill="#0d0d0e"/>
<path d="M503.8,373.45 L537.2,373.45 L537,383 Q537,390 530,390 L511,390 Q504,390 504,383 Z" fill="url(#gCup)"/>
<rect x="503" y="369.4" width="35" height="8.100000000000023" rx="4.46" ry="4.05" fill="#2d2d2f"/>
<rect x="506" y="370.59999999999997" width="29" height="4.500000000000023" rx="2.48" ry="2.25" fill="#0d0d0e"/>
<path d="M505.8,383.4 L544.2,383.4 L541,410.5 Q541,417.5 534,417.5 L515,417.5 Q508,417.5 508,410.5 Z" fill="url(#gCup)"/>
<rect x="505" y="378.8" width="40" height="9.199999999999989" rx="5.06" ry="4.60" fill="#2d2d2f"/>
<rect x="508" y="380.0" width="34" height="5.599999999999989" rx="3.08" ry="2.80" fill="#0d0d0e"/>

<!-- control panel -->
<path d="M288.500,383 Q396,399.500 505.500,383 L505.500,389 Q504,395 498,395.500 Q396,413.500 296,395.500 Q290,395 288.500,389 Z" fill="#2a2a2c"/>
<path d="M300,396 Q396,412 494,396 Q396,404 300,396 Z" fill="#4a4a4d"/>
<path d="M290,369 Q396,387.500 504,369 Q506,376 505.500,384.500 Q396,399.500 288.500,384.500 Q288,376 290,369 Z" fill="#f8f8f9"/>
<path d="M302.500,358.500 L497.500,358.500 L504,371 Q505,375 504,378.500 Q396,387.500 290,378.500 Q289,375 290,371 Z" fill="#e4e6e9"/>
<path d="M302.500,358.500 L314.500,341.500 Q315.500,340.500 318,340.500 L484,340.500 Q486.500,340.500 487.500,342 L497.500,358.500 Z" fill="url(#gPanel)"/>
<path d="M302.500,358.500 L497.500,358.500" stroke="#c6c9cd" stroke-width=".8"/>
<!-- keyboard -->
<path d="M319,346.500 L456,346.500 L458,358 L313,358 Z" fill="#2e2e30"/>
<rect x="467.500" y="340.500" width="6" height="16.500" fill="#222224" rx="1"/>
<!-- knobs row 1 -->
<g fill="#454548">
<rect x="331.500" y="338.500" width="8" height="6.500" rx="2"/><rect x="355.500" y="338.500" width="8" height="6.500" rx="2"/><rect x="380.400" y="338.500" width="8" height="6.500" rx="2"/><rect x="405" y="338.500" width="8" height="6.500" rx="2"/><rect x="429.600" y="338.500" width="8" height="6.500" rx="2"/>
</g>
<g fill="#8a8c90"><rect x="332.500" y="338.500" width="6" height="1.500" rx=".7"/><rect x="356.500" y="338.500" width="6" height="1.500" rx=".7"/><rect x="381.400" y="338.500" width="6" height="1.500" rx=".7"/><rect x="406" y="338.500" width="6" height="1.500" rx=".7"/><rect x="430.600" y="338.500" width="6" height="1.500" rx=".7"/></g>
<g fill="#55565a">
<rect x="347" y="358" width="7" height="11.500" rx="2"/><rect x="374" y="357" width="7" height="11.500" rx="2"/><rect x="411.500" y="357" width="7" height="11.500" rx="2"/><rect x="438.500" y="358" width="7" height="11.500" rx="2"/>
</g>
<g fill="#9a9ca0"><rect x="348" y="358" width="5" height="1.600"/><rect x="375" y="357" width="5" height="1.600"/><rect x="412.500" y="357" width="5" height="1.600"/><rect x="439.500" y="358" width="5" height="1.600"/></g>
<!-- small buttons -->
<g fill="#6b6d72" filter="url(#b1)">
<rect x="309" y="362.500" width="7.500" height="2.600" rx="1.200"/><rect x="321" y="362.500" width="7.500" height="2.600" rx="1.200"/><rect x="333" y="362.500" width="7.500" height="2.600" rx="1.200"/>
<rect x="306" y="367.500" width="7.500" height="2.600" rx="1.200"/><rect x="318.500" y="367.500" width="7.500" height="2.600" rx="1.200"/><rect x="331" y="367.500" width="7.500" height="2.600" rx="1.200"/>
<rect x="303.500" y="372.500" width="7.500" height="2.600" rx="1.200"/><rect x="316" y="372.500" width="7.500" height="2.600" rx="1.200"/><rect x="329" y="372.500" width="7.500" height="2.600" rx="1.200"/>
<rect x="358" y="363" width="7" height="2.800" rx="1.300"/><rect x="366" y="367" width="7" height="2.800" rx="1.300"/><rect x="355" y="370" width="7" height="2.800" rx="1.300"/><rect x="364" y="374" width="8" height="2.800" rx="1.300"/><rect x="345" y="373" width="7" height="2.800" rx="1.300"/>
<rect x="420" y="363" width="7" height="2.800" rx="1.300"/><rect x="428" y="367" width="7" height="2.800" rx="1.300"/><rect x="417" y="370" width="7" height="2.800" rx="1.300"/><rect x="424" y="374" width="8" height="2.800" rx="1.300"/><rect x="438" y="373" width="7" height="2.800" rx="1.300"/>
<rect x="453" y="362.500" width="7.500" height="2.600" rx="1.200"/><rect x="465" y="362.500" width="7.500" height="2.600" rx="1.200"/><rect x="477" y="362.500" width="7.500" height="2.600" rx="1.200"/>
<rect x="455" y="367.500" width="7.500" height="2.600" rx="1.200"/><rect x="467.500" y="367.500" width="7.500" height="2.600" rx="1.200"/><rect x="480" y="367.500" width="7.500" height="2.600" rx="1.200"/>
<rect x="457" y="372.500" width="7.500" height="2.600" rx="1.200"/><rect x="470" y="372.500" width="7.500" height="2.600" rx="1.200"/><rect x="483" y="372.500" width="7.500" height="2.600" rx="1.200"/>
</g>
<ellipse cx="395.500" cy="372.500" rx="11" ry="9" fill="#cdd0d4"/>
<ellipse cx="395.500" cy="371.500" rx="9" ry="7.300" fill="url(#gBall)"/>

<!-- TOUCHSCREEN -->
<rect x="310.500" y="253" width="178" height="86" rx="6.500" fill="#18181a"/>
<rect x="332.500" y="254.700" width="132.500" height="80.500" fill="#0a0e1c"/>
<rect x="354" y="264" width="111" height="57.500" fill="#14317a"/>
<rect x="332.500" y="264" width="21.500" height="57.500" fill="#0d1730"/>
<rect x="376" y="256.500" width="15" height="7.500" fill="#1c3f86"/>
<g filter="url(#b1)">
<text x="337" y="261.500" font-size="3.600" font-weight="bold" fill="#dfe6f4">CHISON</text>
<rect x="357.500" y="267" width="22.500" height="7.500" fill="#2d6fd2"/>
<rect x="383.800" y="269" width="20.800" height="5.500" fill="#0b1428"/>
<rect x="408.800" y="269" width="22.300" height="5.500" fill="#0b1428"/>
<rect x="357.500" y="280" width="22.500" height="7.500" fill="#0b1428"/>
<rect x="383.800" y="278.800" width="20.800" height="8.700" fill="#2468cc"/>
<rect x="408.800" y="278.800" width="22.300" height="8.700" fill="#2468cc"/>
<rect x="357.500" y="292.500" width="22.500" height="7.500" fill="#0b1428"/>
<g fill="#0a1226"><rect x="435.600" y="266" width="27" height="9"/><rect x="435.600" y="279" width="27" height="9.400"/><rect x="435.600" y="291.300" width="27" height="8.500"/><rect x="435.600" y="303.400" width="27" height="9.400"/></g>
<g fill="#8d95a6"><rect x="443" y="269" width="13" height="3.400"/><rect x="443" y="282.400" width="13" height="3.600"/><rect x="443" y="294.600" width="13" height="3.600"/><rect x="443" y="306.600" width="13" height="3.600"/></g>
<g fill="#c9a34a"><circle cx="438.500" cy="270.700" r="1.100"/><circle cx="438.500" cy="284.200" r="1.100"/><circle cx="438.500" cy="296.400" r="1.100"/><circle cx="438.500" cy="308.400" r="1.100"/></g>
<g fill="#dfe5f2"><rect x="458" y="269.500" width="2.500" height="2.400"/><rect x="458" y="283" width="2.500" height="2.400"/><rect x="458" y="295.200" width="2.500" height="2.400"/><rect x="458" y="307.200" width="2.500" height="2.400"/></g>
<g fill="#c9d3ea" opacity=".65">
<rect x="336" y="267" width="4" height="4"/><rect x="343" y="268" width="8" height="2" opacity=".7"/>
<rect x="336" y="276" width="4" height="4"/><rect x="343" y="277" width="8" height="2" opacity=".7"/>
<rect x="336" y="285" width="4" height="4"/><rect x="343" y="286" width="6" height="2" opacity=".7"/>
<rect x="336" y="294" width="4" height="4"/><rect x="343" y="295" width="9" height="2" opacity=".7"/>
<rect x="336" y="303" width="4" height="4"/><rect x="343" y="304" width="8" height="2" opacity=".7"/>
<rect x="336" y="312" width="4" height="4"/><rect x="343" y="313" width="8" height="2" opacity=".7"/>
<rect x="365" y="269" width="7" height="3.500" opacity=".8"/><rect x="364" y="282" width="9" height="3.500" opacity=".8"/><rect x="365" y="294.500" width="7" height="3.500" opacity=".8"/>
<rect x="390" y="282" width="9" height="2" opacity=".8"/><rect x="416" y="282" width="8" height="2" opacity=".8"/>
<rect x="390" y="271" width="8" height="1.600" opacity=".6"/><rect x="414" y="271" width="12" height="1.600" opacity=".6"/>
</g>
</g>
<clipPath id="cpTs"><rect x="332.500" y="321.500" width="132.500" height="13.700"/></clipPath>
<g clip-path="url(#cpTs)" filter="url(#b1)">
<ellipse cx="357" cy="337" rx="12.500" ry="14" fill="#1a3870"/><ellipse cx="385" cy="337" rx="12.500" ry="14" fill="#1a3870"/><ellipse cx="412" cy="337" rx="12.500" ry="14" fill="#1a3870"/><ellipse cx="440" cy="337" rx="12.500" ry="14" fill="#1a1e2e"/>
<g fill="#dfe5f2"><rect x="353" y="329" width="6" height="1.400"/><rect x="352" y="332" width="8" height="1.800"/><rect x="382" y="329" width="5" height="1.400"/><rect x="380" y="332" width="9" height="1.800"/><rect x="408" y="329" width="6" height="1.400"/><rect x="409" y="332" width="4" height="1.800"/></g>
</g>
</g>
<g id="inset">
<defs>
<linearGradient id="gInset" x1="0" x2="1" y1="0" y2="0"><stop offset="0" stop-color="#b1b1b3"/><stop offset=".55" stop-color="#bcbcbe"/><stop offset=".8" stop-color="#e4e4e6"/><stop offset="1" stop-color="#f6f6f7"/></linearGradient>
<clipPath id="cpInset"><circle cx="189" cy="308.300" r="34.200"/></clipPath>
<linearGradient id="gHold" x1="0" x2="1" y1="0" y2="0"><stop offset="0" stop-color="#ffffff"/><stop offset="1" stop-color="#c9c9cc"/></linearGradient>
</defs>
<circle cx="189" cy="308.300" r="34.200" fill="url(#gInset)"/>
<g clip-path="url(#cpInset)" filter="url(#b1)">
<path d="M193,272 L226,272 L226,332 L212,332 L196,322 Z" fill="#ededee"/>
<path d="M195,282 L210,286 L210,322 L195,320 Z" fill="#d9d9db"/>
<path d="M193.300,273 L226,273 L226,303 L222,302.500 L200.600,296.500 Z" fill="#15171c"/>
<path d="M210,290 L226,294 L226,300 L212,297 Z" fill="#2a3b5c"/>
<path d="M205,305 L226,305 L226,312.500 L205,312.500 Z" fill="#1f1f21"/>
<path d="M175.300,289 L195,291.500 L195,322.500 L175.300,320.500 Z" fill="#f4f4f5"/>
<path d="M175.300,289 L179,289.500 L179,321 L175.300,320.500 Z" fill="#dedee0"/>
<rect x="191" y="308.300" width="12.600" height="18.200" rx="3" fill="#131315"/>
<rect x="204.200" y="309.400" width="16.300" height="18.800" rx="3.200" fill="#131315"/>
<rect x="194.400" y="311.700" width="7.400" height="13.700" rx="2" fill="url(#gHold)"/>
<rect x="206.800" y="312.800" width="10.800" height="14.800" rx="2.300" fill="url(#gHold)"/>
<path d="M196,327.500 L219,329.500 L219,333 L196,331 Z" fill="#e0e0e2"/>
</g>
</g>
</g>
<!--CALLOUTS-->
<g id="callouts">
<g id="co" fill="none" stroke="#48484a" stroke-width="1.700" stroke-linejoin="round">
<path d="M593,6.500 L447,6.500 L416,38.500"/>
<path d="M206.300,332.500 L231.500,354 L281.500,354"/>
<path d="M84,492.300 L291,492.300 L377,448.300"/>
<path d="M82,626.300 L288,626.300 L374.500,582.800"/>
<path d="M725.500,469.500 L477.500,469.500 L414.600,531.800"/>
<path d="M718,540.600 L516,540.600 L468.500,565"/>
<path d="M718,648.600 L520,648.600 L468,622"/>
</g>
<g fill="#464648">
<circle cx="281.700" cy="353.700" r="4"/><circle cx="377" cy="448.300" r="4"/><circle cx="374.500" cy="582.800" r="4"/><circle cx="414.600" cy="531.800" r="4"/><circle cx="468.500" cy="565" r="4"/><circle cx="468" cy="622" r="4"/>
</g>
<g font-size="13.330" fill="#555557">
<text x="84.400" y="366.600">Aquecedor</text>
<text x="84.400" y="382.800">de gel (opcional)</text>
<text x="84.400" y="398.600">Com temperatura ajustável</text>
<text x="84.400" y="484.300">Painel de controle elegante</text>
<text x="84.400" y="606.500">Virado para o gravador de</text>
<text x="84.400" y="622.500">CD / DVD frontal</text>
<text x="717.400" y="443.400" text-anchor="end" textLength="160.800" lengthAdjust="spacingAndGlyphs">Tomada De Impressora De</text>
<text x="717.400" y="459.200" text-anchor="end">Vídeo Dedicada</text>
<text x="555.400" y="519">Três / quatro(Opcional)</text>
<text x="558.400" y="535.500">conectores de sonda</text>
<text x="555.400" y="636.600">Bateria embutida (opcional)</text>
<text x="455" y="2.900">Girável: ± 90°</text>
</g>
</g>
<!--BANNER-->
<g id="banner">
<g id="bn">
<defs>
<linearGradient id="gRod" x1="0" x2="1" y1="0" y2="0"><stop offset="0" stop-color="#1b2467"/><stop offset=".55" stop-color="#23339a"/><stop offset="1" stop-color="#2c4fc9"/></linearGradient>
</defs>
<path d="M283,651.500 L595.300,651.500 A45.250,45.250 0 0 1 595.300,742 L283,742 Z" fill="#104bbd"/>
<path d="M283,722.200 L488,722.200 A20.400,20.400 0 0 1 488,763 L283,763 Z" fill="#0a8c3c"/>
<g fill="#ffffff">
<text x="486" y="670.600" font-size="15.200" text-anchor="middle" textLength="223" lengthAdjust="spacingAndGlyphs">INVESTIMENTO NA SAÚDE DO</text>
<text x="484" y="691.200" font-size="15.200" text-anchor="middle" textLength="84.500" lengthAdjust="spacingAndGlyphs">MUNICÍPIO.</text>
<text x="486" y="711.900" font-size="11.800" text-anchor="middle" textLength="228.500" lengthAdjust="spacingAndGlyphs">APARELHO DE ULTRASONOGRAFIA</text>
<text x="354.500" y="750.500" font-size="19.900" textLength="128.500" lengthAdjust="spacingAndGlyphs">RODEIRO-MG</text>
</g>
<!-- circle -->
<circle cx="283.700" cy="710.500" r="66" fill="#d8d3fa"/>
<circle cx="283.700" cy="710.500" r="60.400" fill="#ffffff"/>
<!-- crest -->
<g id="crest">
<!-- laurels -->
<g fill="none" stroke="#8aa35a" stroke-width=".7">
<path d="M270,664 Q262,686 272,708 Q278,713 286,714"/>
<path d="M304,664 Q312,686 302,708 Q296,713 289,714"/>
</g>
<g fill="#2f7d36">
<ellipse cx="266.500" cy="668" rx="1.500" ry="4.200" transform="rotate(18 266.500 668)"/>
<ellipse cx="271.500" cy="665.500" rx="1.300" ry="3.800" transform="rotate(62 271.500 665.500)"/>
<ellipse cx="269.500" cy="678" rx="1.500" ry="4.200" transform="rotate(8 269.500 678)"/>
<ellipse cx="262.500" cy="688" rx="1.700" ry="4.800" transform="rotate(-8 262.500 688)"/>
<ellipse cx="269.500" cy="700" rx="1.500" ry="4" transform="rotate(-14 269.500 700)"/>
<ellipse cx="265.500" cy="706" rx="1.500" ry="4.600" transform="rotate(-52 265.500 706)"/>
<ellipse cx="275" cy="711" rx="1.300" ry="4" transform="rotate(-66 275 711)"/>
<ellipse cx="307.500" cy="668" rx="1.500" ry="4.200" transform="rotate(-18 307.500 668)"/>
<ellipse cx="301.500" cy="665" rx="1.300" ry="3.800" transform="rotate(-62 301.500 665)"/>
<ellipse cx="306" cy="679" rx="1.500" ry="4.200" transform="rotate(-8 306 679)"/>
<ellipse cx="310" cy="690" rx="1.700" ry="4.800" transform="rotate(8 310 690)"/>
<ellipse cx="306" cy="700" rx="1.500" ry="4" transform="rotate(14 306 700)"/>
<ellipse cx="308" cy="707" rx="1.500" ry="4.600" transform="rotate(52 308 707)"/>
<ellipse cx="299" cy="711" rx="1.300" ry="4" transform="rotate(66 299 711)"/>
</g>
<!-- shield -->
<path d="M271.600,670.800 L303.100,670.800 L303.100,704.500 Q303.100,708 296,708 Q289.500,708 287.400,710.300 Q285.300,708 279,708 Q271.600,708 271.600,704.500 Z" fill="#ffffff" stroke="#9aa0b4" stroke-width=".7"/>
<path d="M272.500,672.300 L301,706.600 Q295,707.200 289.500,707.300 L287.400,709.300 L285.300,707.300 Q278,707.300 272.500,706.600 Z" fill="#2a45b0"/>
<path d="M293.900,675 L299.700,683.800 L288.100,683.800 Z" fill="#dc2040"/>
<circle cx="281.100" cy="698.600" r="5.500" fill="none" stroke="#ffffff" stroke-width="1.200"/>
<path d="M281.100,694.600 L282.100,697.400 L285,697.400 L282.700,699.200 L283.500,702 L281.100,700.300 L278.700,702 L279.500,699.200 L277.200,697.400 L280.100,697.400 Z" fill="#ffffff"/>
<!-- ribbon -->
<g fill="none" stroke="#203682" stroke-width="1.300" stroke-linecap="round">
<path d="M274,718.300 Q281,714.600 288,714 Q296,713.600 300,711.500"/>
<path d="M302,718.300 Q295,714.600 287,714 Q279,713.600 275,711.500"/>
</g>
</g>
<text x="247.500" y="725.600" font-size="4.200" font-weight="bold" fill="#958cd8" textLength="83.500" lengthAdjust="spacing">PREFEITURA DE</text>
<text x="247.800" y="743" font-size="19.800" font-weight="bold" fill="url(#gRod)" stroke="url(#gRod)" stroke-width="1.900" stroke-linejoin="round" textLength="81.800" lengthAdjust="spacingAndGlyphs">RODEIRO</text>
<text x="261" y="750.900" font-size="7.100" font-weight="bold" fill="#2b4dc0" stroke="#2b4dc0" stroke-width=".35" textLength="54.800" lengthAdjust="spacingAndGlyphs">ADM-2021/2024</text>
</g>
</g>
</svg>
</body></html>
